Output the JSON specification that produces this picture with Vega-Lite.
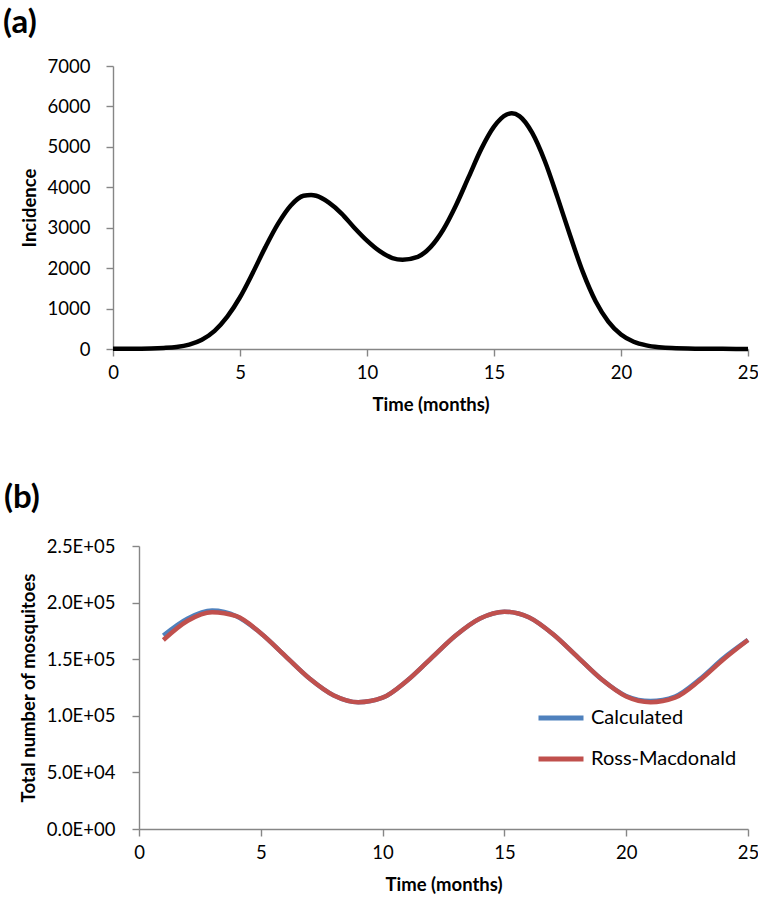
{
  "$schema": "https://vega.github.io/schema/vega-lite/v6.json",
  "padding": {"left": 3, "top": 7, "right": 2, "bottom": 2},
  "background": "white",
  "spacing": 68,
  "resolve": {"legend": {"color": "independent"}, "scale": {"color": "independent"}},
  "config": {
    "view": {"stroke": null},
    "font": "Lato",
    "axis": {
      "grid": false,
      "domainColor": "#868686",
      "domainWidth": 1.4,
      "tickColor": "#868686",
      "tickWidth": 1.4,
      "tickSize": 7,
      "labelFont": "Lato",
      "labelFontSize": 18.5,
      "labelColor": "#000000",
      "titleFont": "Lato",
      "titleFontSize": 18.5,
      "titleFontWeight": "bold",
      "titleColor": "#000000"
    },
    "axisX": {"labelPadding": 7, "titlePadding": 14, "labelFlush": false},
    "axisY": {"labelPadding": 15, "titlePadding": 8}
  },
  "vconcat": [
    {
      "title": {"text": "(a)", "anchor": "start", "frame": "bounds", "fontSize": 33, "fontWeight": "bold", "color": "#000000", "dx": -17, "offset": 17},
      "width": 635,
      "height": 283,
      "data": {
        "values": [
          {"t": 0, "incidence": 5}, {"t": 1, "incidence": 8}, {"t": 1.5, "incidence": 12},
          {"t": 2, "incidence": 25}, {"t": 2.5, "incidence": 50}, {"t": 3, "incidence": 110},
          {"t": 3.5, "incidence": 230}, {"t": 4, "incidence": 450}, {"t": 4.5, "incidence": 800},
          {"t": 5, "incidence": 1280}, {"t": 5.5, "incidence": 1880}, {"t": 6, "incidence": 2520},
          {"t": 6.5, "incidence": 3100}, {"t": 7, "incidence": 3550}, {"t": 7.5, "incidence": 3790},
          {"t": 7.8, "incidence": 3810}, {"t": 8, "incidence": 3790}, {"t": 8.5, "incidence": 3620},
          {"t": 9, "incidence": 3350}, {"t": 9.5, "incidence": 3000}, {"t": 10, "incidence": 2680},
          {"t": 10.5, "incidence": 2420}, {"t": 11, "incidence": 2250}, {"t": 11.4, "incidence": 2210},
          {"t": 12, "incidence": 2280}, {"t": 12.5, "incidence": 2520}, {"t": 13, "incidence": 2950},
          {"t": 13.5, "incidence": 3550}, {"t": 14, "incidence": 4250}, {"t": 14.5, "incidence": 4950},
          {"t": 15, "incidence": 5500}, {"t": 15.5, "incidence": 5800}, {"t": 15.7, "incidence": 5830},
          {"t": 16, "incidence": 5760}, {"t": 16.5, "incidence": 5350}, {"t": 17, "incidence": 4650},
          {"t": 17.5, "incidence": 3750}, {"t": 18, "incidence": 2800}, {"t": 18.5, "incidence": 1900},
          {"t": 19, "incidence": 1180}, {"t": 19.5, "incidence": 680}, {"t": 20, "incidence": 360},
          {"t": 20.5, "incidence": 180}, {"t": 21, "incidence": 90}, {"t": 21.5, "incidence": 45},
          {"t": 22, "incidence": 22}, {"t": 23, "incidence": 8}, {"t": 24, "incidence": 4},
          {"t": 25, "incidence": 2}
        ]
      },
      "mark": {"type": "line", "color": "#000000", "strokeWidth": 4.5, "interpolate": "monotone"},
      "encoding": {
        "x": {
          "field": "t", "type": "quantitative",
          "scale": {"domain": [0, 25], "nice": false},
          "axis": {"values": [0, 5, 10, 15, 20, 25], "title": "Time (months)"}
        },
        "y": {
          "field": "incidence", "type": "quantitative",
          "scale": {"domain": [0, 7000], "nice": false},
          "axis": {"values": [0, 1000, 2000, 3000, 4000, 5000, 6000, 7000], "format": "d", "title": "Incidence", "labelPadding": 16}
        }
      }
    },
    {
      "title": {"text": "(b)", "anchor": "start", "frame": "group", "fontSize": 33, "fontWeight": "bold", "color": "#000000", "dx": -109, "offset": 22},
      "width": 635,
      "height": 283,
      "data": {
        "values": [
          {"t": 1, "series": "Calculated", "n": 171000}, {"t": 2, "series": "Calculated", "n": 186000},
          {"t": 3, "series": "Calculated", "n": 193000}, {"t": 4, "series": "Calculated", "n": 188000},
          {"t": 5, "series": "Calculated", "n": 173000}, {"t": 6, "series": "Calculated", "n": 153000},
          {"t": 7, "series": "Calculated", "n": 133000}, {"t": 8, "series": "Calculated", "n": 118000},
          {"t": 9, "series": "Calculated", "n": 112000}, {"t": 10, "series": "Calculated", "n": 116000},
          {"t": 11, "series": "Calculated", "n": 131000}, {"t": 12, "series": "Calculated", "n": 151000},
          {"t": 13, "series": "Calculated", "n": 171000}, {"t": 14, "series": "Calculated", "n": 186000},
          {"t": 15, "series": "Calculated", "n": 192000}, {"t": 16, "series": "Calculated", "n": 187000},
          {"t": 17, "series": "Calculated", "n": 172000}, {"t": 18, "series": "Calculated", "n": 152000},
          {"t": 19, "series": "Calculated", "n": 132000}, {"t": 20, "series": "Calculated", "n": 117500},
          {"t": 21, "series": "Calculated", "n": 113000}, {"t": 22, "series": "Calculated", "n": 117000},
          {"t": 23, "series": "Calculated", "n": 132000}, {"t": 24, "series": "Calculated", "n": 151000},
          {"t": 25, "series": "Calculated", "n": 167000},
          {"t": 1, "series": "Ross-Macdonald", "n": 167000}, {"t": 2, "series": "Ross-Macdonald", "n": 184000},
          {"t": 3, "series": "Ross-Macdonald", "n": 191500}, {"t": 4, "series": "Ross-Macdonald", "n": 188000},
          {"t": 5, "series": "Ross-Macdonald", "n": 173000}, {"t": 6, "series": "Ross-Macdonald", "n": 153000},
          {"t": 7, "series": "Ross-Macdonald", "n": 133000}, {"t": 8, "series": "Ross-Macdonald", "n": 118000},
          {"t": 9, "series": "Ross-Macdonald", "n": 112000}, {"t": 10, "series": "Ross-Macdonald", "n": 116000},
          {"t": 11, "series": "Ross-Macdonald", "n": 131000}, {"t": 12, "series": "Ross-Macdonald", "n": 151000},
          {"t": 13, "series": "Ross-Macdonald", "n": 171000}, {"t": 14, "series": "Ross-Macdonald", "n": 186000},
          {"t": 15, "series": "Ross-Macdonald", "n": 192000}, {"t": 16, "series": "Ross-Macdonald", "n": 187000},
          {"t": 17, "series": "Ross-Macdonald", "n": 172000}, {"t": 18, "series": "Ross-Macdonald", "n": 152000},
          {"t": 19, "series": "Ross-Macdonald", "n": 132000}, {"t": 20, "series": "Ross-Macdonald", "n": 117000},
          {"t": 21, "series": "Ross-Macdonald", "n": 112000}, {"t": 22, "series": "Ross-Macdonald", "n": 116000},
          {"t": 23, "series": "Ross-Macdonald", "n": 131000}, {"t": 24, "series": "Ross-Macdonald", "n": 150000},
          {"t": 25, "series": "Ross-Macdonald", "n": 167000}
        ]
      },
      "mark": {"type": "line", "strokeWidth": 4.5, "interpolate": "monotone"},
      "encoding": {
        "x": {
          "field": "t", "type": "quantitative",
          "scale": {"domain": [0, 25], "nice": false, "range": [26, 635]},
          "axis": {"values": [0, 5, 10, 15, 20, 25], "title": "Time (months)"}
        },
        "y": {
          "field": "n", "type": "quantitative",
          "scale": {"domain": [0, 250000], "nice": false},
          "axis": {
            "values": [0, 50000, 100000, 150000, 200000, 250000],
            "title": "Total number of mosquitoes",
            "offset": -26,
            "labelPadding": 17,
            "labelExpr": "replace(upper(format(datum.value, '.1e')), regexp('E\\\\+(\\\\d)$'), 'E+0$1')"
          }
        },
        "color": {
          "field": "series", "type": "nominal",
          "scale": {"domain": ["Calculated", "Ross-Macdonald"], "range": ["#4F81BD", "#C0504D"]},
          "legend": {
            "title": null,
            "orient": "none",
            "legendX": 423,
            "legendY": 147,
            "symbolType": "stroke",
            "symbolSize": 2025,
            "symbolStrokeWidth": 5,
            "labelFontSize": 20,
            "labelColor": "#000000",
            "labelOffset": 5,
            "rowPadding": 6
          }
        }
      }
    }
  ]
}
